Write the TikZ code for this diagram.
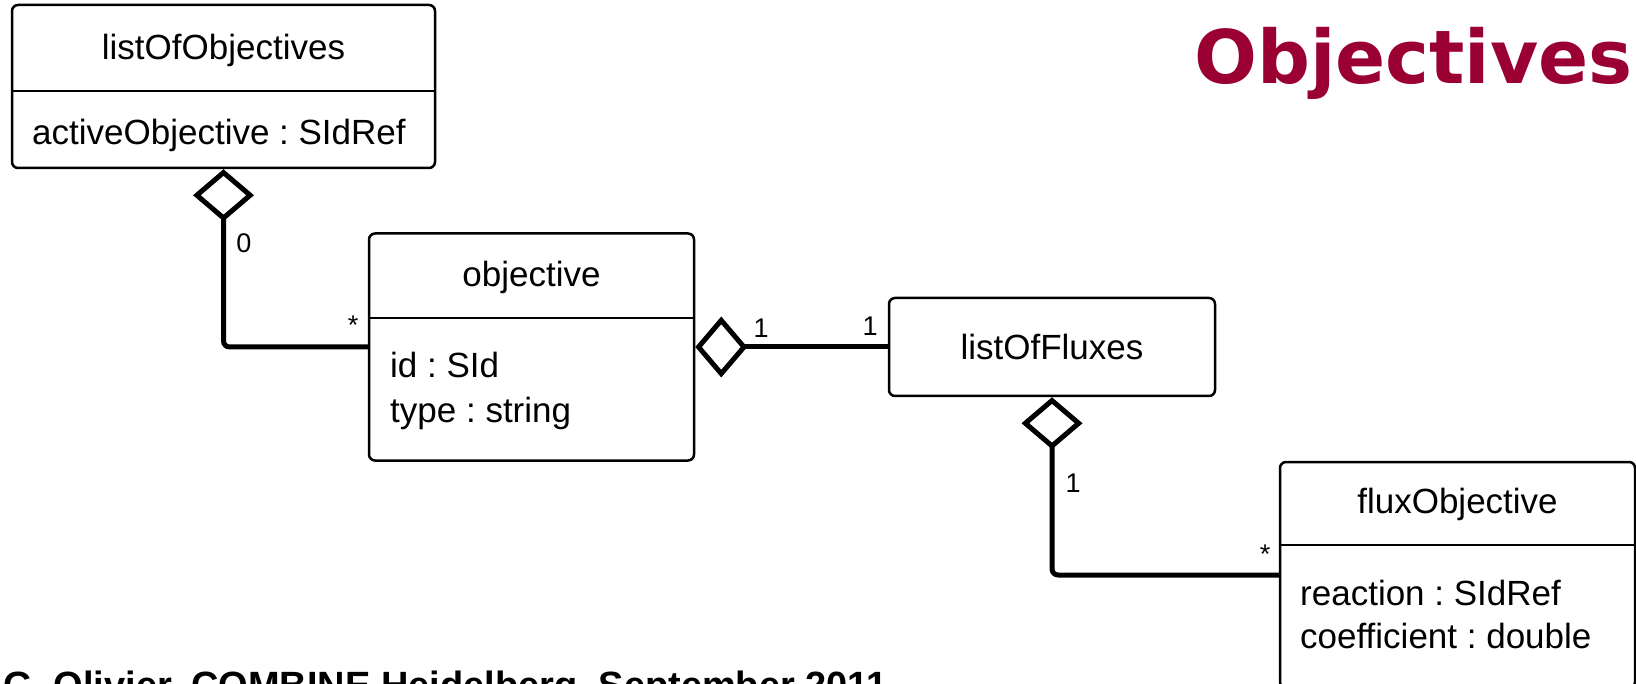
\documentclass[tikz,border=0pt]{standalone}
\usepackage{fontspec}
\setmainfont{Liberation Sans}
\newfontfamily\titlefont{DejaVu Sans}
\usepackage{tikz}
\usetikzlibrary{arrows.meta}
\definecolor{sbmlred}{RGB}{155,0,51}

\begin{document}
\frenchspacing
\begin{tikzpicture}[x=1pt,y=-1pt]
		\tikzstyle{classbox}=[draw,line width=2.5,rounded corners=6,inner sep=0]
		\tikzstyle{classname}=[font=\fontsize{35}{42}\selectfont,inner sep=0,anchor=base]
		\tikzstyle{classattr}=[font=\fontsize{35}{42}\selectfont,inner sep=0,anchor=base west]
		\tikzstyle{mult}=[font=\fontsize{27}{32}\selectfont,inner sep=0,anchor=base]
		\tikzstyle{aggr}=[line width=5,arrows={Diamond[open,length=52pt,width=61pt]-}]
		
		\useasboundingbox (0,0) rectangle (1636,684);
		
		% classes
		\node[classbox,minimum width=423,minimum height=163] (loo) at (223.5,86.5) {};
		\node[classname] (loo_name) at (223.5,60) {listOfObjectives};
		\draw[line width=2.5] (loo.west |- 0,91) -- (loo.east |- 0,91);
		\node[classattr] (loo_attr) at (32,145) {activeObjective : SIdRef};
		
		\node[classbox,minimum width=325,minimum height=227] (obj) at (531.5,347) {};
		\node[classname] (obj_name) at (531.5,287) {objective};
		\draw[line width=2.5] (obj.west |- 0,318) -- (obj.east |- 0,318);
		\node[classattr] (obj_id) at (390,378) {id : SId};
		\node[classattr] (obj_type) at (390,422) {type : string};
		
		\node[classbox,minimum width=326,minimum height=98,font=\fontsize{35}{42}\selectfont] (lof) at (1052,347) {listOfFluxes};
		
		\node[classbox,minimum width=355,minimum height=226] (fo) at (1457.5,575) {};
		\node[classname] (fo_name) at (1457.5,513) {fluxObjective};
		\draw[line width=2.5] (fo.west |- 0,545) -- (fo.east |- 0,545);
		\node[classattr] (fo_reaction) at (1300,605) {reaction : SIdRef};
		\node[classattr] (fo_coeff) at (1300,648) {coefficient : double};
		
		% aggregations
		\draw[aggr] (loo.south) [rounded corners=6] |- (obj.west);
		\draw[aggr] (obj.east) -- (lof.west);
		\draw[aggr] (lof.south) [rounded corners=6] |- (fo.west);
		
		\node[mult] (m_loo) at (244,253) {0};
		\node[mult] (m_obj) at (353,335) {*};
		\node[mult] (m_obj2) at (761,338) {1};
		\node[mult] (m_lof) at (870,336) {1};
		\node[mult] (m_lof2) at (1073,492) {1};
		\node[mult] (m_fo) at (1265,563) {*};
		
		% title and footer
		\node[font=\titlefont\bfseries\fontsize{74}{80}\selectfont,text=sbmlred,anchor=base east,inner sep=0] (title) at (1633,84) {Objectives};
		\node[font=\bfseries\fontsize{38}{44}\selectfont,anchor=base west,inner sep=0] (footer) at (3,698) {G. Olivier, COMBINE Heidelberg, September 2011};
	
	\end{tikzpicture}
\end{document}
